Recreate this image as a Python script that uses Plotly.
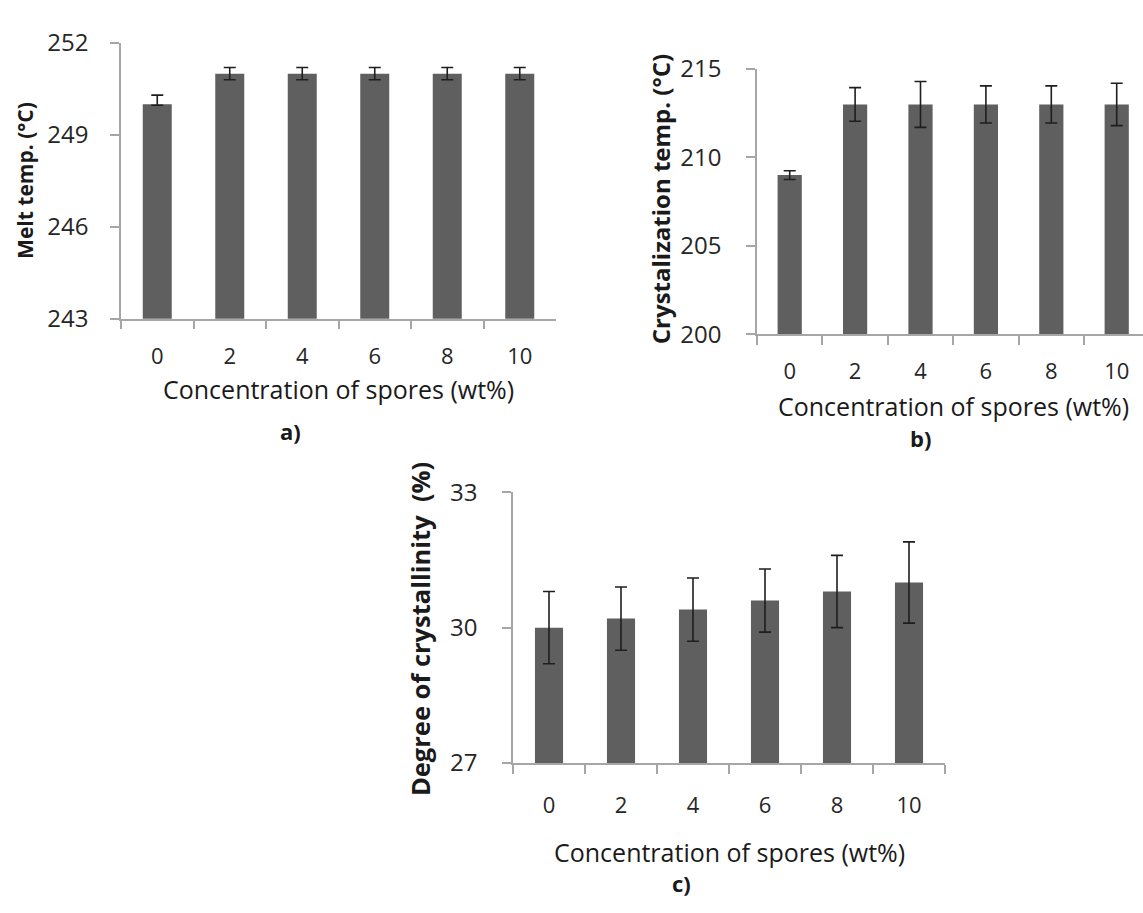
import plotly.graph_objects as go

# Spore loading (wt%) shared by all three panels
concentrations = ["0", "2", "4", "6", "8", "10"]

# a) melt temperature (°C)
melt_temp = [250.0, 251.0, 251.0, 251.0, 251.0, 251.0]
melt_err_plus = [0.3, 0.2, 0.2, 0.2, 0.2, 0.2]
melt_err_minus = [0.03, 0.2, 0.2, 0.2, 0.2, 0.2]

# b) crystallization temperature (°C)
cryst_temp = [209.0, 213.0, 213.0, 213.0, 213.0, 213.0]
cryst_err = [0.25, 0.95, 1.3, 1.05, 1.05, 1.2]

# c) degree of crystallinity (%)
crystallinity = [30.0, 30.2, 30.4, 30.6, 30.8, 31.0]
crystallinity_err = [0.8, 0.7, 0.7, 0.7, 0.8, 0.9]

W, H = 1143, 913
FONT = "Open Sans"
BAR = "#5f5f5f"
AXIS = "#a6a6a6"
ERR = "#1e1e1e"


def px(x):
    return x / W


def py(y):
    return 1 - y / H


fig = go.Figure()


def add_panel(idx, values, plus, minus, width):
    fig.add_trace(go.Bar(
        x=concentrations, y=values, width=width,
        marker=dict(color=BAR, line=dict(width=0)),
        error_y=dict(type="data", array=plus, arrayminus=minus, symmetric=False,
                     color=ERR, thickness=1.6, width=6),
        xaxis="x" if idx == 1 else f"x{idx}",
        yaxis="y" if idx == 1 else f"y{idx}",
        showlegend=False,
    ))


add_panel(1, melt_temp, melt_err_plus, melt_err_minus, 0.4)
add_panel(2, cryst_temp, cryst_err, cryst_err, 0.37)
add_panel(3, crystallinity, crystallinity_err, crystallinity_err, 0.39)


def xaxis_style(standoff):
    return dict(type="category", tickson="boundaries", showline=True, linecolor=AXIS,
                linewidth=1.5, ticks="outside", ticklen=9, tickwidth=1.5, tickcolor=AXIS,
                showgrid=False, zeroline=False,
                tickfont=dict(family=FONT, size=22, color="#262626"),
                ticklabelstandoff=standoff)


def yaxis_style(standoff):
    return dict(showline=True, linecolor=AXIS, linewidth=1.5, ticks="outside", ticklen=9,
                tickwidth=1.5, tickcolor=AXIS, showgrid=False, zeroline=False,
                tickfont=dict(family=FONT, size=24, color="#262626"),
                ticklabelstandoff=standoff)


fig.update_layout(
    width=W, height=H,
    margin=dict(l=0, r=0, t=0, b=0),
    paper_bgcolor="white", plot_bgcolor="white",
    xaxis=dict(xaxis_style(17), domain=[px(121), px(556)], anchor="y", range=[-0.5, 5.5]),
    yaxis=dict(yaxis_style(17), domain=[py(312), py(26)], anchor="x", range=[243, 252],
               tickvals=[243, 246, 249, 252]),
    xaxis2=dict(xaxis_style(17), domain=[px(757), 1.0], anchor="y2", range=[-0.5, 5.402]),
    yaxis2=dict(yaxis_style(20), domain=[py(328), py(53)], anchor="x2", range=[200, 215],
                tickvals=[200, 205, 210, 215]),
    xaxis3=dict(xaxis_style(22), domain=[px(513), px(945)], anchor="y3", range=[-0.5, 5.5]),
    yaxis3=dict(yaxis_style(20), domain=[py(773), py(492)], anchor="x3", range=[27, 33],
                tickvals=[27, 30, 33]),
)

ann = []


def text(x, y, s, size, bold=False, angle=0):
    ann.append(dict(
        x=px(x), y=py(y), xref="paper", yref="paper", showarrow=False,
        text=f"<b>{s}</b>" if bold else s, textangle=angle,
        xanchor="center", yanchor="middle",
        font=dict(family=FONT, size=size, color="#1a1a1a"),
    ))


# axis titles
text(25, 169, "Melt temp. (°C)", 21, bold=True, angle=-90)
text(660, 188, "Crystalization temp. (°C)", 24, bold=True, angle=-90)
text(420, 634, "Degree of crystallinity  (%)", 25.5, bold=True, angle=-90)

x_title = "Concentration of spores (wt%)"
text(338, 385, x_title, 25)
text(953, 403, x_title, 25)
text(729, 865, x_title, 25)

# panel labels
text(290, 428, "a)", 22, bold=True)
text(920, 436, "b)", 22, bold=True)
text(681, 897, "c)", 22, bold=True)

fig.update_layout(annotations=ann)

fig.write_html("out.html")
